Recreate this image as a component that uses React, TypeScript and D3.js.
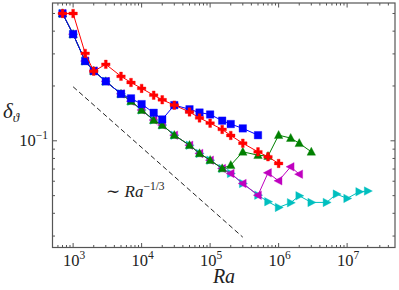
import React from 'react';
import * as d3 from 'd3';

const raRed = [700, 1000, 1500, 2000, 3000, 5000, 7000, 1e4, 1.5e4, 2e4, 3e4, 5e4, 7e4, 1e5, 1.5e5, 2e5, 3e5, 5e5, 7e5, 1e6];
const deltaRed = [0.5, 0.5, 0.302, 0.241, 0.263, 0.226, 0.209, 0.194, 0.178, 0.168, 0.157, 0.144, 0.1335, 0.125, 0.1155, 0.107, 0.097, 0.087, 0.0817, 0.0751];

const raBlue = [700, 1000, 1500, 2000, 3000, 5000, 7000, 1e4, 1.5e4, 2e4, 3e4, 5e4, 7e4, 1e5, 1.5e5, 2e5, 3e5, 5e5];
const deltaBlue = [0.5, 0.385, 0.274, 0.242, 0.212, 0.181, 0.171, 0.159, 0.1425, 0.131, 0.157, 0.149, 0.143, 0.1395, 0.129, 0.1236, 0.117, 0.1074];

const raGreen = [700, 1000, 1500, 2000, 3000, 5000, 7000, 1e4, 1.5e4, 2e4, 3e4, 5e4, 7e4, 1e5, 1.5e5, 2e5, 3e5, 5e5, 7e5, 1e6, 1.5e6, 2e6, 3e6];
const deltaGreen = [0.5, 0.385, 0.274, 0.242, 0.212, 0.181, 0.165, 0.1476, 0.13, 0.122, 0.1074, 0.0946, 0.0853, 0.0783, 0.0705, 0.0735, 0.087, 0.0834, 0.0824, 0.1074, 0.1035, 0.097, 0.087];

const raMagenta = [700, 1000, 1500, 2000, 3000, 5000, 7000, 1e4, 1.5e4, 2e4, 3e4, 5e4, 7e4, 1e5, 1.5e5, 2e5, 3e5, 5e5, 7e5, 1e6, 1.5e6, 2e6];
const deltaMagenta = [0.5, 0.385, 0.274, 0.242, 0.212, 0.181, 0.165, 0.1476, 0.13, 0.122, 0.1074, 0.0946, 0.0853, 0.0783, 0.0705, 0.0662, 0.0583, 0.0503, 0.0667, 0.0603, 0.072, 0.0656];

const raCyan = [700, 1000, 1500, 2000, 3000, 5000, 7000, 1e4, 1.5e4, 2e4, 3e4, 5e4, 7e4, 1e5, 1.5e5, 2e5, 3e5, 5e5, 7e5, 1e6, 1.5e6, 2e6, 3e6, 5e6, 7e6, 1e7, 1.5e7, 2e7];
const deltaCyan = [0.5, 0.385, 0.274, 0.242, 0.212, 0.181, 0.165, 0.1476, 0.13, 0.122, 0.1074, 0.0946, 0.0853, 0.0783, 0.0705, 0.0662, 0.0583, 0.0503, 0.0463, 0.0431, 0.0457, 0.0499, 0.0459, 0.0459, 0.051, 0.0483, 0.0525, 0.053];

// reference slope line Ra^(-1/3)
const slopeRa = [1000, 3e5];
const slopeDelta = [0.198, 0.198 * Math.pow(300, -1 / 3)];

const xMajor = [3, 4, 5, 6, 7];
const yMajor = [-1];

const W = 399, H = 290;
const left = 52.5, right = 395, top = 3, bottom = 247.5;

type Series = { ra: number[]; delta: number[]; color: string; marker: string };

const series: Series[] = [
  { ra: raCyan, delta: deltaCyan, color: '#00bfbf', marker: 'triRight' },
  { ra: raMagenta, delta: deltaMagenta, color: '#bf00bf', marker: 'triLeft' },
  { ra: raGreen, delta: deltaGreen, color: '#008000', marker: 'triUp' },
  { ra: raBlue, delta: deltaBlue, color: '#0000ff', marker: 'square' },
  { ra: raRed, delta: deltaRed, color: '#ff0000', marker: 'plus' },
];

function markerPath(kind: string, s: number) {
  const h = s / 2;
  if (kind === 'square') return `M${-h},${-h}H${h}V${h}H${-h}Z`;
  if (kind === 'triUp') return `M0,${-h * 1.1}L${h},${h * 0.8}L${-h},${h * 0.8}Z`;
  if (kind === 'triLeft') return `M${-h * 1.1},0L${h * 0.8},${-h}L${h * 0.8},${h}Z`;
  if (kind === 'triRight') return `M${h * 1.1},0L${-h * 0.8},${-h}L${-h * 0.8},${h}Z`;
  const t = s / 6;
  return `M${-t},${-h}H${t}V${-t}H${h}V${t}H${t}V${h}H${-t}V${t}H${-h}V${-t}H${-t}Z`;
}

export default function App() {
  const x = d3.scaleLog().domain([500, 5e7]).range([left, right]);
  const y = d3.scaleLog().domain([0.02596, 0.5709]).range([bottom, top]);

  const line = d3.line<[number, number]>().x(d => x(d[0])).y(d => y(d[1]));

  const xMinor: number[] = [];
  for (let e = 2; e <= 7; e++) for (let m = 2; m <= 9; m++) {
    const v = m * Math.pow(10, e);
    if (v > 500 && v < 5e7) xMinor.push(v);
  }
  const yMinor: number[] = [];
  for (let e = -2; e <= -1; e++) for (let m = 2; m <= 9; m++) {
    const v = m * Math.pow(10, e);
    if (v > 0.02596 && v < 0.5709) yMinor.push(v);
  }

  const axisColor = '#555';
  const font = '"Liberation Serif", "DejaVu Serif", serif';

  return (
    <div style={{ position: 'absolute', left: 0, top: 0 }}>
      <svg width={W} height={H} style={{ display: 'block', background: '#fff' }}>
        {series.map((s, i) => (
          <g key={i}>
            <path d={line(s.ra.map((r, j) => [r, s.delta[j]] as [number, number])) || ''} fill="none" stroke={s.color} strokeWidth={1} />
            {s.ra.map((r, j) => (
              <path key={j} transform={`translate(${x(r)},${y(s.delta[j])})`} d={markerPath(s.marker, s.marker === 'square' ? 7.5 : 8.5)} fill={s.color} stroke={s.color} strokeOpacity={0.35} strokeWidth={1} />
            ))}
          </g>
        ))}

        <path d={line(slopeRa.map((r, j) => [r, slopeDelta[j]] as [number, number])) || ''} fill="none" stroke="#222" strokeWidth={1} strokeDasharray="5,3" />

        <rect x={left} y={top} width={right - left} height={bottom - top} fill="none" stroke={axisColor} strokeWidth={1.2} />

        {xMajor.map(e => {
          const px = x(Math.pow(10, e));
          return (
            <g key={'xM' + e}>
              <line x1={px} x2={px} y1={bottom} y2={bottom - 4.5} stroke={axisColor} />
              <line x1={px} x2={px} y1={top} y2={top + 4.5} stroke={axisColor} />
              <text x={px + 1} y={266} textAnchor="middle" fontFamily={font} fontSize={16.5} fill="#222">
                10<tspan dy={-7} fontSize={11.5}>{e}</tspan>
              </text>
            </g>
          );
        })}
        {xMinor.map((v, i) => {
          const px = x(v);
          return (
            <g key={'xm' + i}>
              <line x1={px} x2={px} y1={bottom} y2={bottom - 2.5} stroke={axisColor} />
              <line x1={px} x2={px} y1={top} y2={top + 2.5} stroke={axisColor} />
            </g>
          );
        })}
        {yMajor.map(e => {
          const py = y(Math.pow(10, e));
          return (
            <g key={'yM' + e}>
              <line x1={left} x2={left + 4.5} y1={py} y2={py} stroke={axisColor} />
              <line x1={right} x2={right - 4.5} y1={py} y2={py} stroke={axisColor} />
              <text x={48} y={py + 5} textAnchor="end" fontFamily={font} fontSize={16.5} fill="#222">
                10<tspan dy={-7} fontSize={11.5}>{'\u2212' + Math.abs(e)}</tspan>
              </text>
            </g>
          );
        })}
        {yMinor.map((v, i) => {
          const py = y(v);
          return (
            <g key={'ym' + i}>
              <line x1={left} x2={left + 2.5} y1={py} y2={py} stroke={axisColor} />
              <line x1={right} x2={right - 2.5} y1={py} y2={py} stroke={axisColor} />
            </g>
          );
        })}

        <text x={224} y={283} textAnchor="middle" fontFamily={font} fontStyle="italic" fontSize={20} fill="#222">Ra</text>
        <text x={3} y={118} fontFamily={font} fontStyle="italic" fontSize={21} fill="#222">
          δ<tspan dy={4} fontSize={13}>ϑ</tspan>
        </text>
        <text x={106} y={197} fontFamily={font} fontSize={17} fill="#222">
          ∼ <tspan fontStyle="italic">Ra</tspan><tspan dy={-7} fontSize={11.5}>−1/3</tspan>
        </text>
      </svg>
    </div>
  );
}
